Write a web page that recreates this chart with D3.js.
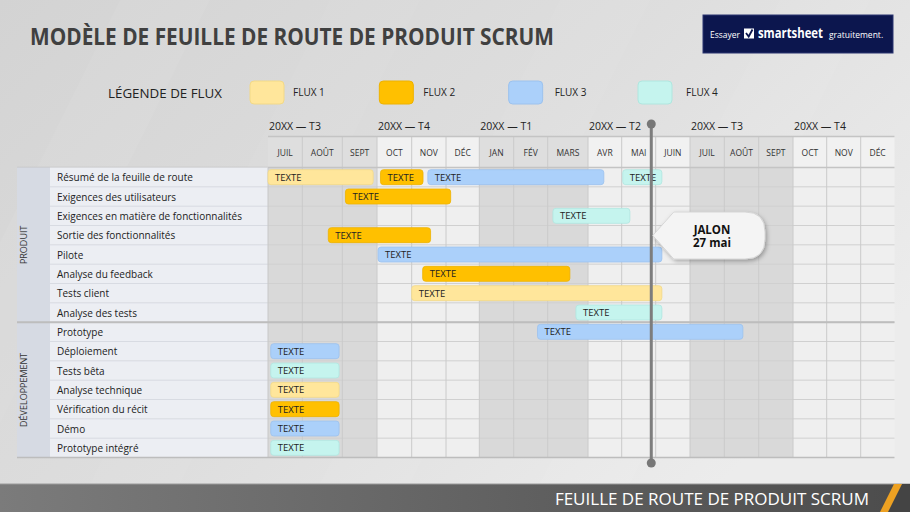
<!DOCTYPE html>
<html><head><meta charset="utf-8">
<script src="https://cdn.jsdelivr.net/npm/d3@7/dist/d3.min.js"></script>
<style>html,body{margin:0;padding:0;overflow:hidden;background:#ddd}svg{display:block;font-family:"Open Sans","Noto Sans",sans-serif}</style>
</head><body>
<svg id="c" width="910" height="512"></svg>
<script>
// ---------- DATA ----------
const title = "MODÈLE DE FEUILLE DE ROUTE DE PRODUIT SCRUM";
const footerText = "FEUILLE DE ROUTE DE PRODUIT SCRUM";
const legendTitle = "LÉGENDE DE FLUX";
const fluxNames = ["FLUX 1", "FLUX 2", "FLUX 3", "FLUX 4"];
const quarters = ["20XX — T3", "20XX — T4", "20XX — T1", "20XX — T2", "20XX — T3", "20XX — T4"];
const months = ["JUIL", "AOÛT", "SEPT", "OCT", "NOV", "DÉC", "JAN", "FÉV", "MARS", "AVR", "MAI", "JUIN", "JUIL", "AOÛT", "SEPT", "OCT", "NOV", "DÉC"];
const groups = ["PRODUIT", "DÉVELOPPEMENT"];
const tasks = ["Résumé de la feuille de route", "Exigences des utilisateurs", "Exigences en matière de fonctionnalités",
  "Sortie des fonctionnalités", "Pilote", "Analyse du feedback", "Tests client", "Analyse des tests",
  "Prototype", "Déploiement", "Tests bêta", "Analyse technique", "Vérification du récit", "Démo", "Prototype intégré"];
const taskGroup = [0,0,0,0,0,0,0,0,1,1,1,1,1,1,1];
// bars: task index, flux index (0-3), start & end in months from first JUIL
const barTask  = [0, 0, 0, 0, 1, 2, 3, 4, 5, 6, 7, 8, 9, 10, 11, 12, 13, 14];
const barFlux  = [0, 1, 2, 3, 1, 3, 1, 2, 1, 0, 3, 2, 2, 3, 0, 1, 2, 3];
const barStart = [0.0, 3.1, 4.47, 10.03, 2.09, 8.13, 1.65, 3.03, 4.32, 4.0, 8.7, 7.7, 0.08, 0.08, 0.08, 0.08, 0.08, 0.08];
const barEnd   = [2.89, 4.33, 9.47, 11.18, 5.14, 10.24, 4.55, 11.18, 8.55, 11.18, 11.18, 13.54, 1.92, 1.92, 1.92, 1.92, 1.92, 1.92];
const barLabel = "TEXTE";
const milestoneMonth = 10.87;
const milestoneLines = ["JALON", "27 mai"];
const logoWords = ["Essayer", "smartsheet", "gratuitement."];

// ---------- STYLE / LAYOUT ----------
const fluxColors = ["#ffe69b", "#ffc000", "#abd0fa", "#c5f4ee"];
const fluxStroke = ["#f2d988", "#eeb200", "#9cc2ee", "#b0e6df"];
const colBounds = [268, 302.3, 342.3, 377, 411.7, 446, 479.3, 513.7, 547.7, 588, 621.7, 655.7, 690, 724.3, 758.7, 793, 826.7, 860.7, 894.5];
const svg = d3.select("#c");
const defs = svg.append("defs");

// background
const bg = defs.append("linearGradient").attr("id","bg").attr("x1","0").attr("y1","0").attr("x2","1").attr("y2","0.6");
bg.append("stop").attr("offset","0").attr("stop-color","#d3d3d3");
bg.append("stop").attr("offset","0.55").attr("stop-color","#dedede");
bg.append("stop").attr("offset","1").attr("stop-color","#ececec");
svg.append("rect").attr("width",910).attr("height",512).attr("fill","url(#bg)");
[[120,0.05],[330,0.04],[560,0.05],[780,0.06]].forEach(([x0,o])=>{
  svg.append("path").attr("d",`M${x0},0 L${x0+90},0 L${x0-150},484 L${x0-240},484 Z`).attr("fill","#fff").attr("opacity",o);
});

const sh = defs.append("filter").attr("id","sh").attr("x","-20%").attr("y","-30%").attr("width","150%").attr("height","170%");
sh.append("feDropShadow").attr("dx",1.5).attr("dy",2).attr("stdDeviation",2).attr("flood-color","#000").attr("flood-opacity",0.3);

// title
svg.append("text").attr("x",30).attr("y",44.5).text(title)
  .attr("font-size",23).attr("font-weight",700).attr("fill","#404040")
  .attr("textLength",524).attr("lengthAdjust","spacingAndGlyphs");

// logo
const lg = svg.append("g");
lg.append("rect").attr("x",703).attr("y",15).attr("width",190).attr("height",38).attr("fill","#0c164e").attr("stroke","#2a3570");
lg.append("rect").attr("x",744).attr("y",28.5).attr("width",10).attr("height",10).attr("fill","#fff");
lg.append("path").attr("d","M746,33 L748.7,36.5 L752.5,29.5").attr("stroke","#0c164e").attr("stroke-width",1.8).attr("fill","none");
const logoX = [710, 758, 829], logoY = [37.5, 38, 37.5], logoS = [8.5, 14, 8.5], logoW = [400, 700, 400], logoTarget = [31, 65, 56];
logoWords.forEach((w,i)=>{
  const t = lg.append("text").attr("x",0).attr("y",0).text(w)
    .attr("font-size",logoS[i]).attr("font-weight",logoW[i]).attr("fill","#fff");
  const nat = t.node().getComputedTextLength();
  const k = Math.min(1, logoTarget[i]/nat);
  t.attr("transform",`translate(${logoX[i]},${logoY[i]}) scale(${k},1)`);
});

// legend
svg.append("text").attr("x",108).attr("y",98).text(legendTitle).attr("font-size",13.5).attr("fill","#222")
  .attr("textLength",114).attr("lengthAdjust","spacingAndGlyphs");
const legX = d3.scalePoint().domain(fluxNames).range([250, 638]);
const leg = svg.selectAll("g.leg").data(fluxNames).join("g").attr("class","leg")
  .attr("transform",d=>`translate(${legX(d)},81)`);
leg.append("rect").attr("width",34).attr("height",23).attr("rx",4)
  .attr("fill",(d,i)=>fluxColors[i]).attr("stroke",(d,i)=>fluxStroke[i]);
leg.append("text").attr("x",(d,i)=>[43,44,46,48][i]).attr("y",15).text(d=>d).attr("font-size",10).attr("fill","#222");

// scales
const x = d3.scaleLinear().domain(d3.range(colBounds.length)).range(colBounds);
const y = d3.scaleBand().domain(d3.range(tasks.length)).range([167.5, 457.5]);
const headTop = 136.5, headBot = 167.5;
const quarterOf = i => Math.floor(i/3);
const darkQ = q => q % 2 === 0;

// grid body
const grid = svg.append("g");
grid.selectAll("rect.col").data(months).join("rect").attr("class","col")
  .attr("x",(d,i)=>x(i)).attr("width",(d,i)=>x(i+1)-x(i))
  .attr("y",y.range()[0]).attr("height",y.range()[1]-y.range()[0])
  .attr("fill",(d,i)=>darkQ(quarterOf(i)) ? "#d9d9d9" : "#efefef");
grid.selectAll("rect.hcol").data(months).join("rect").attr("class","hcol")
  .attr("x",(d,i)=>x(i)).attr("width",(d,i)=>x(i+1)-x(i))
  .attr("y",headTop).attr("height",headBot-headTop)
  .attr("fill",(d,i)=>darkQ(quarterOf(i)) ? "#dedede" : "#f1f1f1");
grid.selectAll("line.row").data(d3.range(1,tasks.length)).join("line").attr("class","row")
  .attr("x1",x(0)).attr("x2",x(months.length)).attr("y1",d=>y(d)).attr("y2",d=>y(d))
  .attr("stroke","#d0d0d0").attr("stroke-width",1);
grid.selectAll("line.vcol").data(d3.range(1,months.length)).join("line").attr("class","vcol")
  .attr("x1",d=>x(d)).attr("x2",d=>x(d)).attr("y1",headTop).attr("y2",y.range()[1])
  .attr("stroke","#cacaca").attr("stroke-width",1);
grid.append("line").attr("x1",x(0)).attr("x2",x(months.length)).attr("y1",headTop).attr("y2",headTop).attr("stroke","#c4c4c4").attr("stroke-width",1.5);
grid.append("line").attr("x1",17).attr("x2",x(months.length)).attr("y1",headBot).attr("y2",headBot).attr("stroke","#c4c4c4").attr("stroke-width",1.5);

// month labels
svg.selectAll("text.m").data(months).join("text").attr("class","m")
  .attr("x",(d,i)=>(x(i)+x(i+1))/2).attr("y",155.5).attr("text-anchor","middle")
  .text(d=>d).attr("font-size",8.5).attr("fill","#333");
// quarter labels
svg.selectAll("text.q").data(quarters).join("text").attr("class","q")
  .attr("x",(d,i)=>x(i*3)+1).attr("y",130).text(d=>d).attr("font-size",10.5).attr("fill","#222");

// left panel
const lp = svg.append("g");
lp.selectAll("rect.lab").data(tasks).join("rect").attr("class","lab")
  .attr("x",50).attr("width",218).attr("y",(d,i)=>y(i)).attr("height",y.bandwidth())
  .attr("fill","#eceef3");
lp.selectAll("line.lab").data(d3.range(1,tasks.length)).join("line").attr("class","lab")
  .attr("x1",50).attr("x2",268).attr("y1",d=>y(d)).attr("y2",d=>y(d)).attr("stroke","#d8dbe2");
lp.selectAll("text.lab").data(tasks).join("text").attr("class","lab")
  .attr("x",57).attr("y",(d,i)=>y(i)+y.bandwidth()/2+4).text(d=>d).attr("font-size",10).attr("fill","#222");
const gExt = groups.map((g,gi)=>{
  const idx = d3.range(tasks.length).filter(i=>taskGroup[i]===gi);
  return {name:g, y0:y(d3.min(idx)), y1:y(d3.max(idx))+y.bandwidth()};
});
lp.selectAll("rect.grp").data(gExt).join("rect").attr("class","grp")
  .attr("x",17).attr("width",33).attr("y",d=>d.y0).attr("height",d=>d.y1-d.y0).attr("fill","#d6dae3");
lp.selectAll("text.grp").data(gExt).join("text").attr("class","grp")
  .attr("transform",d=>`translate(27,${(d.y0+d.y1)/2}) rotate(-90)`).attr("text-anchor","middle")
  .text(d=>d.name).attr("font-size",9).attr("fill","#333");
lp.append("line").attr("x1",268).attr("x2",268).attr("y1",headBot).attr("y2",y.range()[1]).attr("stroke","#c8c8c8");
svg.selectAll("line.sep").data(gExt.slice(1)).join("line").attr("class","sep")
  .attr("x1",17).attr("x2",x(months.length)).attr("y1",d=>d.y0).attr("y2",d=>d.y0)
  .attr("stroke","#bdbdbd").attr("stroke-width",2);
svg.append("line").attr("x1",17).attr("x2",x(months.length)).attr("y1",y.range()[1]).attr("y2",y.range()[1])
  .attr("stroke","#bdbdbd").attr("stroke-width",1.5);

// bars
const bh = 15;
const bars = svg.selectAll("g.bar").data(d3.range(barTask.length)).join("g").attr("class","bar");
bars.append("rect")
  .attr("x",i=>x(barStart[i])).attr("width",i=>x(barEnd[i])-x(barStart[i]))
  .attr("y",i=>y(barTask[i])+(y.bandwidth()-bh)/2).attr("height",bh).attr("rx",3)
  .attr("fill",i=>fluxColors[barFlux[i]]).attr("stroke",i=>fluxStroke[barFlux[i]]).attr("stroke-width",0.8);
bars.append("text")
  .attr("x",i=>x(barStart[i])+7).attr("y",i=>y(barTask[i])+y.bandwidth()/2+3.6)
  .text(barLabel).attr("font-size",9.5).attr("fill","#222");

// milestone
const mx = x(milestoneMonth);
svg.append("line").attr("x1",mx).attr("x2",mx).attr("y1",124).attr("y2",463)
  .attr("stroke","#7d7d7d").attr("stroke-width",3);
svg.selectAll("circle.ms").data([124,463]).join("circle").attr("class","ms")
  .attr("cx",mx).attr("cy",d=>d).attr("r",4.5).attr("fill","#777");
const cy0 = 212, cy1 = 259, tipX = mx+1.5, cMid = (cy0+cy1)/2;
svg.append("path")
  .attr("d",`M${tipX},${cMid} L${tipX+21},${cy0} H${765-20} Q765,${cy0} 765,${cy0+20} V${cy1-20} Q765,${cy1} ${765-20},${cy1} H${tipX+21} Z`)
  .attr("fill","#f4f4f4").attr("stroke","#d0d0d0").attr("stroke-width",0.8).attr("filter","url(#sh)");
svg.selectAll("text.ml").data(milestoneLines).join("text").attr("class","ml")
  .attr("x",712).attr("y",(d,i)=>233.5+i*13.5).attr("text-anchor","middle")
  .text(d=>d).attr("font-size",11.5).attr("font-weight",700).attr("fill","#111");

// footer
const fg = defs.append("linearGradient").attr("id","fg").attr("x1","0").attr("x2","1");
fg.append("stop").attr("offset","0").attr("stop-color","#7b7b7b");
fg.append("stop").attr("offset","1").attr("stop-color","#4c4c4c");
svg.append("rect").attr("x",0).attr("y",484).attr("width",910).attr("height",28).attr("fill","url(#fg)");
svg.append("line").attr("x1",0).attr("x2",910).attr("y1",484).attr("y2",484).attr("stroke","#9a9a9a");
svg.append("path").attr("d","M902,484 L910,484 L910,512 L888,512 Z").attr("fill","#444");
svg.append("path").attr("d","M894,484 L902,484 L888,512 L880,512 Z").attr("fill","#eda122");
svg.append("text").attr("x",869).attr("y",505).attr("text-anchor","end").text(footerText)
  .attr("font-size",17).attr("fill","#fff");
</script>
</body></html>
